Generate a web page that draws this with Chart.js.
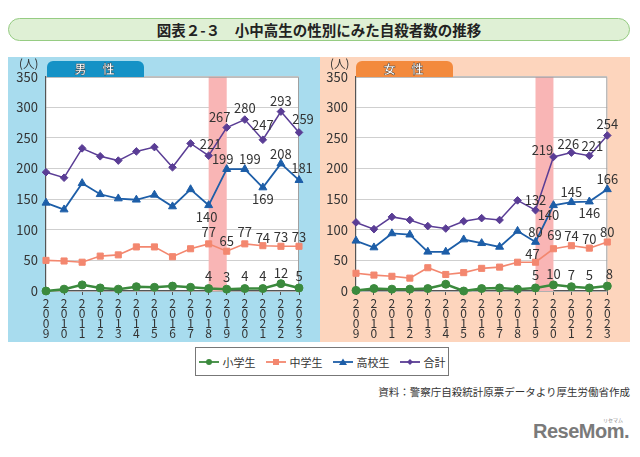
<!DOCTYPE html>
<html>
<head>
<meta charset="utf-8">
<script src="https://cdn.jsdelivr.net/npm/chart.js@4.4.1/dist/chart.umd.min.js"></script>
<style>
  body { margin: 0; background: #fff; font-family: 'Noto Sans CJK JP', sans-serif; }
  #wrap { position: relative; width: 640px; height: 457px; overflow: hidden; }
  .abs { position: absolute; }
  #title { left: 8px; top: 18px; width: 620px; height: 21px; border: 1.5px solid #96cc83; border-radius: 12px;
    background: #dff0d5; text-align: center; font-weight: bold; font-size: 14.5px; line-height: 21px; color: #222; }
  .panel { top: 57px; height: 285px; }
  .tab { top: 61px; width: 97px; height: 16px; border-radius: 6px 6px 0 0; color: #fff; font-weight: bold;
    font-size: 12px; line-height: 16px; text-align: center; -webkit-text-stroke: 0.4px #333; letter-spacing: 2px; }
  .unit { font-size: 11.5px; color: #333; }
  #legend { left: 195px; top: 347px; width: 252px; height: 27px; border: 1px solid #777; background: #fff;
    font-size: 11px; color: #333; display: flex; align-items: center; justify-content: center; gap: 10px; }
  #legend span { display: inline-flex; align-items: center; gap: 4px; }
  #source { right: 10px; top: 384px; font-size: 10.5px; color: #333; }
  #logo { left: 533px; top: 420px; font-family: 'Liberation Sans', Arial, sans-serif; font-weight: bold;
    font-size: 20px; color: #7a7a7a; letter-spacing: -0.5px; }
  #kana { left: 603px; top: 416px; font-size: 5px; color: #888; }
</style>
</head>
<body>
<div id="wrap">
  <div id="title" class="abs">図表２-３　小中高生の性別にみた自殺者数の推移</div>
  <div class="abs panel" style="left:8px;width:312px;background:#a8dcee;"></div>
  <div class="abs panel" style="left:320px;width:310px;background:#fdd5bd;"></div>
  <canvas id="male" class="abs" width="312" height="285" style="left:8px;top:57px;"></canvas>
  <canvas id="female" class="abs" width="310" height="285" style="left:320px;top:57px;"></canvas>
  <div class="abs tab" style="left:47px;background:#1592c6;">男　性</div>
  <div class="abs tab" style="left:356px;background:#f38a3d;">女　性</div>
  <div class="abs unit" style="left:19px;top:55px;">(人)</div>
  <div class="abs unit" style="left:330px;top:55px;">(人)</div>
  <div id="legend" class="abs"></div>
  <div id="source" class="abs">資料：警察庁自殺統計原票データより厚生労働省作成</div>
  <div id="kana" class="abs">リセマム</div>
  <div id="logo" class="abs">ReseMom.</div>
</div>
<script>
const years = ['2009', '2010', '2011', '2012', '2013', '2014', '2015', '2016', '2017', '2018', '2019', '2020', '2021', '2022', '2023'];
const yTicks = [0, 50, 100, 150, 200, 250, 300, 350];
const seriesNames = ['小学生', '中学生', '高校生', '合計'];

const maleElem   = [0, 3, 10, 5, 3, 7, 6, 8, 6, 4, 3, 4, 4, 12, 5];
const maleMiddle = [50, 49, 47, 57, 59, 72, 72, 56, 69, 77, 65, 77, 74, 73, 73];
const maleHigh   = [144, 133, 176, 158, 151, 149, 157, 138, 166, 140, 199, 199, 169, 208, 181];
const maleTotal  = [194, 185, 233, 220, 213, 228, 235, 202, 241, 221, 267, 280, 247, 293, 259];

const femaleElem   = [1, 4, 3, 3, 4, 11, 0, 4, 5, 3, 5, 10, 7, 5, 8];
const femaleMiddle = [29, 26, 24, 21, 38, 27, 30, 37, 39, 47, 47, 69, 74, 70, 80];
const femaleHigh   = [82, 71, 94, 92, 64, 64, 84, 78, 72, 98, 80, 140, 145, 146, 166];
const femaleTotal  = [112, 101, 121, 116, 106, 102, 114, 119, 116, 148, 132, 219, 226, 221, 254];

// highlighted year band (index from..to)
const bands = { male: [9, 10], female: [10, 11] };

// styles for the 4 series
const styles = [
  { color: '#3b8a3d', pointStyle: 'circle', radius: 4, width: 2.5 },
  { color: '#f3876f', pointStyle: 'rect', radius: 4.3, width: 1.6 },
  { color: '#1d5ea8', pointStyle: 'triangle', radius: 4.6, width: 1.8 },
  { color: '#5a3d95', pointStyle: 'rectRot', radius: 3.8, width: 1.5 }
];

// which points get a value label, and where (dx, dy from the point)
const valueLabels = {
  male: [
    { 9: [0, -12], 10: [0, -12], 11: [0, -12], 12: [0, -12], 13: [0, -11], 14: [0, -12] },
    { 9: [0, -12], 10: [0, -10], 11: [0, -12], 12: [0, -8], 13: [0, -9], 14: [0, -9] },
    { 9: [-2, 12], 10: [-4, -10], 11: [5, -10], 12: [0, 12], 13: [0, -10], 14: [3, -12] },
    { 9: [2, -12], 10: [-7, -10], 11: [0, -11], 12: [0, -15], 13: [0, -11], 14: [4, -13] }
  ],
  female: [
    { 10: [0, -13], 11: [0, -11], 12: [0, -12], 13: [0, -13], 14: [2, -12] },
    { 10: [-3, -8], 11: [1, -14], 12: [0, -10], 13: [0, -9], 14: [0, -10] },
    { 10: [0, -10], 11: [-5, 10], 12: [0, -10], 13: [0, 11], 14: [0, -10] },
    { 10: [0, -10], 11: [-11, -7], 12: [-3, -9], 13: [3, -10], 14: [0, -11] }
  ]
};

Chart.defaults.font.family = "'Noto Sans CJK JP', sans-serif";
Chart.defaults.color = '#333';

const areaPlugin = {
  id: 'area',
  beforeDraw(chart) {
    const a = chart.chartArea, ctx = chart.ctx;
    ctx.save();
    ctx.fillStyle = '#fff';
    ctx.fillRect(a.left, a.top, a.right - a.left, a.bottom - a.top);
    ctx.restore();
  },
  beforeDatasetsDraw(chart) {
    const a = chart.chartArea, ctx = chart.ctx, x = chart.scales.x;
    const band = bands[chart.canvas.id];
    const x0 = x.getPixelForValue(band[0]), x1 = x.getPixelForValue(band[1]);
    ctx.save();
    ctx.fillStyle = '#f9b5b5';
    ctx.fillRect(x0, a.top, x1 - x0, a.bottom - a.top);
    ctx.strokeStyle = '#a0a0a0';
    ctx.lineWidth = 1;
    ctx.beginPath();
    ctx.moveTo(a.left, a.top + 0.5);
    ctx.lineTo(a.right - 0.5, a.top + 0.5);
    ctx.lineTo(a.right - 0.5, a.bottom);
    ctx.stroke();
    ctx.restore();
  },
  afterDatasetsDraw(chart) {
    const ctx = chart.ctx;
    const labels = valueLabels[chart.canvas.id];
    ctx.save();
    ctx.font = "13px 'Noto Sans CJK JP', sans-serif";
    ctx.fillStyle = '#333';
    ctx.textAlign = 'center';
    ctx.textBaseline = 'middle';
    chart.data.datasets.forEach((ds, d) => {
      const meta = chart.getDatasetMeta(d);
      const conf = labels[d];
      Object.keys(conf).forEach(k => {
        const p = meta.data[k];
        const off = conf[k];
        ctx.fillText(String(ds.data[k]), p.x + off[0], p.y + off[1]);
      });
    });
    ctx.restore();
  }
};

function makeChart(id, series, leftW, rightPad) {
  new Chart(document.getElementById(id), {
    type: 'line',
    data: {
      labels: years,
      datasets: series.map((vals, i) => ({
        label: seriesNames[i],
        data: vals,
        borderColor: styles[i].color,
        backgroundColor: styles[i].color,
        borderWidth: styles[i].width,
        pointStyle: styles[i].pointStyle,
        pointRadius: styles[i].radius,
        pointBorderWidth: 1,
        tension: 0,
        clip: false
      }))
    },
    options: {
      responsive: false,
      animation: false,
      layout: { padding: { top: 19.7, right: rightPad, left: 0, bottom: 0 } },
      plugins: {
        legend: { display: false },
        tooltip: { enabled: false }
      },
      scales: {
        x: {
          afterFit(s) { s.height = 51; },
          grid: { drawOnChartArea: false, drawTicks: true, tickLength: 4, color: '#555' },
          border: { color: '#555', width: 1.2 },
          ticks: {
            autoSkip: false, maxRotation: 0, padding: 3,
            font: { size: 12, lineHeight: 0.85 },
            callback: (v, i) => years[i].split('')
          }
        },
        y: {
          min: 0, max: 350,
          afterFit(s) { s.width = leftW; },
          afterBuildTicks(s) { s.ticks = yTicks.map(v => ({ value: v })); },
          grid: { color: '#cfcfcf', drawTicks: false },
          border: { color: '#555', width: 1.2 },
          ticks: { padding: 8, font: { size: 13 } }
        }
      }
    },
    plugins: [areaPlugin]
  });
}

makeChart('male', [maleElem, maleMiddle, maleHigh, maleTotal], 38, 21);
makeChart('female', [femaleElem, femaleMiddle, femaleHigh, femaleTotal], 36, 22.7);

// legend
const shapes = {
  circle: c => `<circle cx="10" cy="5" r="3" fill="${c}"/>`,
  rect: c => `<rect x="7" y="2" width="6" height="6" fill="${c}"/>`,
  triangle: c => `<polygon points="10,1.5 14,8 6,8" fill="${c}"/>`,
  rectRot: c => `<polygon points="10,2 13,5 10,8 7,5" fill="${c}"/>`
};
document.getElementById('legend').innerHTML = seriesNames.map((n, i) => {
  const s = styles[i];
  return `<span><svg width="20" height="10"><line x1="0" y1="5" x2="20" y2="5" stroke="${s.color}" stroke-width="1.8"/>${shapes[s.pointStyle](s.color)}</svg>${n}</span>`;
}).join('');
</script>
</body>
</html>
